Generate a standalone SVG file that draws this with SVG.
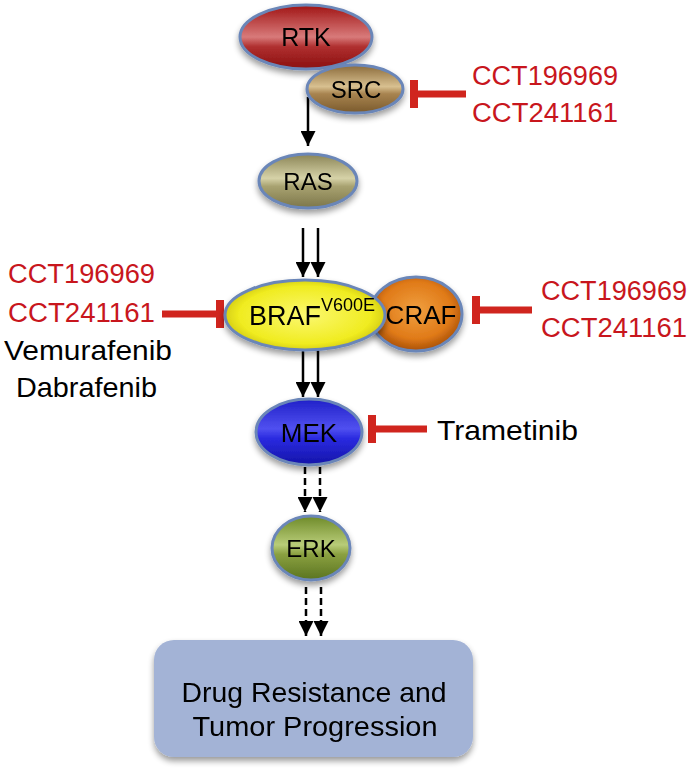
<svg xmlns="http://www.w3.org/2000/svg" width="689" height="778" viewBox="0 0 689 778">
<defs>
<style>
.lbl{font-family:"Liberation Sans",Arial,sans-serif;font-size:24px;fill:#000;text-anchor:middle}
.red{font-family:"Liberation Sans",Arial,sans-serif;font-size:27px;fill:#c8161d}
.blk{font-family:"Liberation Sans",Arial,sans-serif;font-size:28px;fill:#000}
.node{stroke:#6b86b8;stroke-width:3}
.arr{stroke:#000;stroke-width:2.5;fill:none}
.dash{stroke:#000;stroke-width:2.5;fill:none;stroke-dasharray:7 4}
.inh{stroke:#d0251e;stroke-width:7;fill:none}
.bar{fill:#d0251e}
</style>
<marker id="ah" viewBox="0 0 10 10" refX="10" refY="5" markerWidth="6" markerHeight="6" markerUnits="strokeWidth" orient="auto">
<path d="M0,0 L10,5 L0,10 z" fill="#000"/>
</marker>
<linearGradient id="gRTK" x1="0" y1="0" x2="0" y2="1">
<stop offset="0" stop-color="#a01414"/><stop offset="0.5" stop-color="#d87a7a"/><stop offset="0.65" stop-color="#b03030"/><stop offset="1" stop-color="#8a0f0f"/>
</linearGradient>
<linearGradient id="gSRC" x1="0" y1="0" x2="0" y2="1">
<stop offset="0" stop-color="#8a6a3a"/><stop offset="0.45" stop-color="#d8c090"/><stop offset="0.6" stop-color="#a88450"/><stop offset="1" stop-color="#7a5a2c"/>
</linearGradient>
<linearGradient id="gRAS" x1="0" y1="0" x2="0" y2="1">
<stop offset="0" stop-color="#8a8455"/><stop offset="0.45" stop-color="#d6d2a8"/><stop offset="0.6" stop-color="#a8a270"/><stop offset="1" stop-color="#7c764a"/>
</linearGradient>
<radialGradient id="gBRAF" cx="0.5" cy="0.5" r="0.55">
<stop offset="0" stop-color="#fbf870"/><stop offset="0.75" stop-color="#f0ec20"/><stop offset="1" stop-color="#c8c010"/>
</radialGradient>
<radialGradient id="gCRAF" cx="0.5" cy="0.45" r="0.55">
<stop offset="0" stop-color="#f0a040"/><stop offset="0.7" stop-color="#e07a18"/><stop offset="1" stop-color="#a85008"/>
</radialGradient>
<linearGradient id="gMEK" x1="0" y1="0" x2="0" y2="1">
<stop offset="0" stop-color="#2020c8"/><stop offset="0.45" stop-color="#5050f0"/><stop offset="0.6" stop-color="#2a2ae0"/><stop offset="1" stop-color="#1414a8"/>
</linearGradient>
<linearGradient id="gERK" x1="0" y1="0" x2="0" y2="1">
<stop offset="0" stop-color="#6e8a28"/><stop offset="0.45" stop-color="#b8cc78"/><stop offset="0.6" stop-color="#8aa040"/><stop offset="1" stop-color="#5a7420"/>
</linearGradient>
<filter id="sh" x="-20%" y="-20%" width="140%" height="150%">
<feGaussianBlur in="SourceAlpha" stdDeviation="3"/><feOffset dx="0" dy="4"/><feComponentTransfer><feFuncA type="linear" slope="0.4"/></feComponentTransfer>
<feMerge><feMergeNode/><feMergeNode in="SourceGraphic"/></feMerge>
</filter>
</defs>
<rect width="689" height="778" fill="#fff"/>

<g id="connectors">
<line class="arr" x1="308" y1="97" x2="308" y2="146" marker-end="url(#ah)"/>
<line class="arr" x1="303" y1="228" x2="303" y2="277" marker-end="url(#ah)"/>
<line class="arr" x1="318" y1="228" x2="318" y2="277" marker-end="url(#ah)"/>
<line class="arr" x1="303" y1="349" x2="303" y2="397" marker-end="url(#ah)"/>
<line class="arr" x1="318" y1="349" x2="318" y2="397" marker-end="url(#ah)"/>
<line class="dash" x1="305" y1="467" x2="305" y2="512" marker-end="url(#ah)"/>
<line class="dash" x1="320" y1="467" x2="320" y2="512" marker-end="url(#ah)"/>
<line class="dash" x1="306" y1="587" x2="306" y2="636" marker-end="url(#ah)"/>
<line class="dash" x1="321" y1="587" x2="321" y2="636" marker-end="url(#ah)"/>
<line class="inh" x1="414" y1="94" x2="466" y2="94"/>
<rect class="bar" x="410" y="80" width="8" height="28"/>
<line class="inh" x1="162" y1="314" x2="220" y2="314"/>
<rect class="bar" x="216" y="300" width="8" height="28"/>
<line class="inh" x1="476" y1="310" x2="532" y2="310"/>
<rect class="bar" x="472" y="296" width="8" height="28"/>
<line class="inh" x1="372" y1="429" x2="427" y2="429"/>
<rect class="bar" x="368" y="415" width="8" height="28"/>
</g>

<g id="RTK" filter="url(#sh)">
<ellipse class="node" cx="306" cy="37" rx="66" ry="32" fill="url(#gRTK)"/>
<text class="lbl" x="306" y="46" style="font-size:25px">RTK</text>
</g>
<g id="SRC" filter="url(#sh)">
<ellipse class="node" cx="355" cy="89" rx="48" ry="24" fill="url(#gSRC)"/>
<text class="lbl" x="356" y="98">SRC</text>
</g>
<g id="RAS" filter="url(#sh)">
<ellipse class="node" cx="308" cy="181" rx="49" ry="27" fill="url(#gRAS)"/>
<text class="lbl" x="308" y="190">RAS</text>
</g>
<g id="CRAF" filter="url(#sh)">
<ellipse class="node" cx="416" cy="314" rx="46" ry="37" fill="url(#gCRAF)"/>
<text class="lbl" x="421" y="324" style="font-size:26px">CRAF</text>
</g>
<g id="BRAF" filter="url(#sh)">
<ellipse class="node" cx="305" cy="315" rx="80" ry="35" fill="url(#gBRAF)"/>
<text class="lbl" x="249" y="325" style="text-anchor:start;font-size:27px">BRAF<tspan dy="-14" style="font-size:18px">V600E</tspan></text>
</g>
<g id="MEK" filter="url(#sh)">
<ellipse class="node" cx="309" cy="432" rx="53" ry="33" fill="url(#gMEK)"/>
<text class="lbl" x="309" y="442" style="font-size:26px">MEK</text>
</g>
<g id="ERK" filter="url(#sh)">
<ellipse class="node" cx="311" cy="548" rx="39" ry="32" fill="url(#gERK)"/>
<text class="lbl" x="311" y="557">ERK</text>
</g>
<g id="outcome" filter="url(#sh)">
<rect x="154" y="640" width="319" height="117" rx="20" fill="#a3b3d6"/>
<text class="lbl" x="314" y="702" style="font-size:28px" textLength="265" lengthAdjust="spacingAndGlyphs">Drug Resistance and</text>
<text class="lbl" x="315" y="736" style="font-size:28px" textLength="245" lengthAdjust="spacingAndGlyphs">Tumor Progression</text>
</g>

<g id="inhibitors">
<text class="red" x="472" y="85" textLength="146" lengthAdjust="spacingAndGlyphs">CCT196969</text>
<text class="red" x="472" y="122" textLength="146" lengthAdjust="spacingAndGlyphs">CCT241161</text>
<text class="red" x="8" y="283" textLength="147" lengthAdjust="spacingAndGlyphs">CCT196969</text>
<text class="red" x="8" y="322" textLength="147" lengthAdjust="spacingAndGlyphs">CCT241161</text>
<text class="blk" x="4" y="360" textLength="168" lengthAdjust="spacingAndGlyphs">Vemurafenib</text>
<text class="blk" x="16" y="397" textLength="141" lengthAdjust="spacingAndGlyphs">Dabrafenib</text>
<text class="red" x="541" y="300" textLength="146" lengthAdjust="spacingAndGlyphs">CCT196969</text>
<text class="red" x="541" y="337" textLength="146" lengthAdjust="spacingAndGlyphs">CCT241161</text>
<text class="blk" x="437" y="440" textLength="141" lengthAdjust="spacingAndGlyphs">Trametinib</text>
</g>
</svg>
